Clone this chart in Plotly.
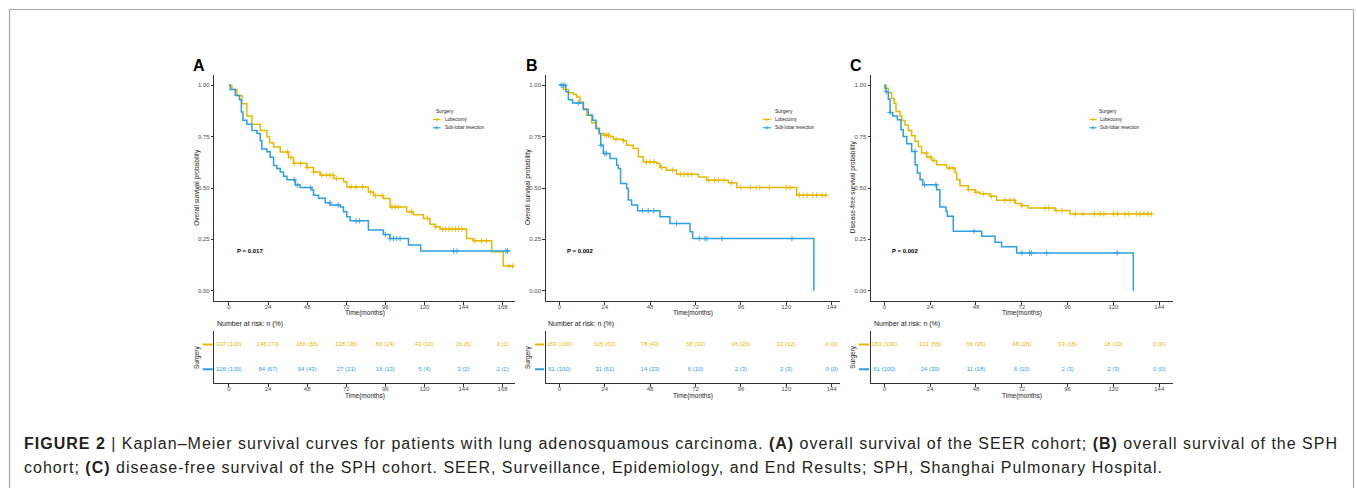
import numpy as np
import plotly.graph_objects as go

W, H = 1357, 488
ORANGE = "#E7B800"
BLUE = "#2E9FDF"
FONT = "Liberation Sans, Arial, Helvetica, sans-serif"

# ---------------- Data ----------------
# Panel A: overall survival, SEER cohort
A_lob_t = [0, 1.8, 4.9, 8.0, 11.0, 14.1, 19.2, 23.3, 25.0, 27.4, 31.5, 36.6, 39.6, 47.8, 51.9, 56.0, 64.2, 70.3, 72.3,
           85.6, 88.7, 94.8, 98.9, 109.1, 113.2, 119.4, 123.4, 126.5, 129.6, 145.9, 150.0, 161.3, 168.4, 175.0]
A_lob_s = [1.0, 0.98, 0.95, 0.91, 0.85, 0.81, 0.78, 0.75, 0.72, 0.70, 0.675, 0.648, 0.62, 0.60, 0.578, 0.562, 0.546, 0.53, 0.505,
           0.48, 0.463, 0.449, 0.408, 0.384, 0.37, 0.352, 0.324, 0.311, 0.30, 0.254, 0.243, 0.19, 0.12, 0.12]
A_lob_cens = [36, 38, 40, 44, 48, 52, 57, 60, 62, 64, 66, 75, 78, 82, 87, 90, 94, 100, 102, 104, 112, 122,
              127, 131, 133, 135, 137, 139, 141, 143, 151, 155, 158, 172, 174]
A_sub_t = [0, 0.8, 3.9, 6.5, 7.6, 8.6, 11.0, 14.1, 17.2, 19.2, 20.2, 23.3, 25.3, 27.4, 29.4, 31.5, 33.5, 35.6, 40.7, 43.7,
           50.9, 51.9, 55.0, 59.1, 62.1, 68.3, 70.3, 72.3, 74.4, 85.6, 94.8, 98.9, 110.2, 117.7, 172.5]
A_sub_s = [1.0, 0.98, 0.95, 0.93, 0.87, 0.83, 0.81, 0.78, 0.765, 0.73, 0.69, 0.676, 0.65, 0.61, 0.595, 0.578, 0.557, 0.54, 0.514, 0.502,
           0.49, 0.465, 0.45, 0.428, 0.417, 0.408, 0.384, 0.36, 0.34, 0.295, 0.274, 0.254, 0.222, 0.193, 0.193]
A_sub_cens = [40, 42, 50, 62, 67, 78, 80, 96, 99, 101, 103, 105, 138, 140, 170, 171]

# Panel B: overall survival, SPH cohort
B_lob_t = [0, 2.1, 4.8, 7.4, 9.2, 10.9, 12.7, 14.5, 17.1, 19.7, 21.1, 23.3, 26.8, 28.6, 33.8, 35.6, 39.1, 41.8, 44.4,
           51.5, 53.2, 56.7, 62.0, 73.5, 77.9, 89.4, 93.8, 125.5, 141.3]
B_lob_s = [1.0, 0.98, 0.963, 0.955, 0.943, 0.919, 0.886, 0.854, 0.817, 0.79, 0.765, 0.757, 0.749, 0.737, 0.73, 0.708, 0.692, 0.652, 0.627,
           0.619, 0.60, 0.587, 0.567, 0.554, 0.538, 0.525, 0.502, 0.465, 0.465]
B_lob_cens = [24, 25, 26, 30, 34, 46, 48, 50, 54, 60, 64, 66, 68, 70, 79, 82, 84, 87, 91, 96, 101, 104, 106, 111,
              120, 122, 127, 129, 131, 134, 136, 139, 141]
B_sub_t = [0, 3.5, 4.8, 7.0, 12.7, 15.3, 17.6, 19.4, 21.1, 21.9, 23.3, 26.8, 30.3, 31.2, 32.4, 35.6, 36.5, 38.2, 41.4,
           53.2, 58.5, 69.1, 70.5, 134.6]
B_sub_s = [1.0, 0.968, 0.93, 0.914, 0.882, 0.854, 0.83, 0.79, 0.765, 0.708, 0.668, 0.643, 0.611, 0.595, 0.522, 0.498, 0.441, 0.417, 0.389,
           0.36, 0.327, 0.287, 0.254, 0.0]
B_sub_cens = [1, 2, 3, 10, 22, 24, 25, 44, 47, 50, 62, 74, 77, 78, 86, 123]

# Panel C: disease-free survival, SPH cohort
C_lob_t = [0, 0.9, 2.1, 3.8, 5.1, 6.1, 8.2, 9.1, 10.8, 12.6, 14.3, 16.1, 17.8, 19.5, 22.2, 24.8, 27.4, 32.6, 37.0, 37.9,
           39.6, 44.0, 47.5, 50.1, 55.3, 58.8, 68.5, 72.0, 75.4, 89.4, 97.2, 140.0]
C_lob_s = [1.0, 0.985, 0.964, 0.937, 0.913, 0.872, 0.851, 0.828, 0.807, 0.78, 0.754, 0.727, 0.702, 0.67, 0.65, 0.634, 0.613, 0.597, 0.576, 0.54,
           0.511, 0.492, 0.479, 0.472, 0.46, 0.44, 0.424, 0.414, 0.403, 0.39, 0.374, 0.374]
C_lob_cens = [22, 24, 26, 34, 36, 44, 48, 52, 56, 63, 66, 68, 72, 84, 86, 90, 93, 100, 104, 110, 113, 115,
              120, 122, 126, 128, 132, 134, 136, 138, 140]
C_sub_t = [0, 0.35, 0.9, 2.1, 3.0, 4.4, 6.8, 8.7, 9.9, 11.7, 14.3, 16.1, 17.3, 18.7, 20.1, 27.4, 29.1, 32.3, 33.0, 36.1,
           51.0, 58.0, 61.4, 69.3, 130.4]
C_sub_s = [1.0, 0.985, 0.969, 0.932, 0.867, 0.851, 0.832, 0.783, 0.751, 0.715, 0.678, 0.613, 0.573, 0.54, 0.516, 0.492, 0.408, 0.387, 0.362, 0.29,
           0.265, 0.236, 0.214, 0.184, 0.0]
C_sub_cens = [1, 3, 16, 21, 27, 47, 72, 76, 77, 85, 122]

# Numbers at risk
A_risk_t = [0, 24, 48, 72, 96, 120, 144, 168]
A_risk_lob = ["337 (100)", "246 (73)", "186 (55)", "128 (38)", "80 (24)", "43 (13)", "16 (5)", "3 (1)"]
A_risk_sub = ["126 (100)", "84 (67)", "54 (43)", "27 (21)", "16 (13)", "5 (4)", "3 (2)", "2 (2)"]
B_risk_t = [0, 24, 48, 72, 96, 120, 144]
B_risk_lob = ["183 (100)", "115 (63)", "78 (43)", "58 (32)", "36 (20)", "22 (12)", "0 (0)"]
B_risk_sub = ["61 (100)", "31 (51)", "14 (23)", "6 (10)", "2 (3)", "2 (3)", "0 (0)"]
C_risk_t = [0, 24, 48, 72, 96, 120, 144]
C_risk_lob = ["183 (100)", "101 (55)", "66 (36)", "48 (26)", "33 (18)", "18 (10)", "0 (0)"]
C_risk_sub = ["61 (100)", "24 (39)", "11 (18)", "6 (10)", "2 (3)", "2 (3)", "0 (0)"]

p_values = ["P = 0.017", "P = 0.002", "P = 0.002"]
y_titles = ["Overall survival probability", "Overall survival probability", "Disease-free survival probability"]
letters = ["A", "B", "C"]
group_names = ["Lobectomy", "Sub-lobar resection"]
y_ticks = [0, 0.25, 0.5, 0.75, 1.0]
y_tick_text = ["0.00", "0.25", "0.50", "0.75", "1.00"]


def surv_at(t, times, survs):
    i = int(np.searchsorted(np.asarray(times), t, side="right")) - 1
    return survs[max(i, 0)]


def fx(p):
    return p / W


def fy(p):
    return 1 - p / H


# ---------------- Layout geometry (pixels) ----------------
panels = [
    dict(x0=214.3, x1=515.0, xr=[-9.0, 175.6], ticks=list(range(0, 169, 24)),
         lob=(A_lob_t, A_lob_s, A_lob_cens), sub=(A_sub_t, A_sub_s, A_sub_cens),
         risk=(A_risk_t, A_risk_lob, A_risk_sub),
         letter_x=198.5, ytitle_x=196.7, surg_x=197, dash=(202.7, 212.7), p_x=235,
         leg_title_x=434, leg_line=(433, 440.5), leg_text_x=443),
    dict(x0=545.7, x1=840.0, xr=[-7.2, 148.4], ticks=list(range(0, 145, 24)),
         lob=(B_lob_t, B_lob_s, B_lob_cens), sub=(B_sub_t, B_sub_s, B_sub_cens),
         risk=(B_risk_t, B_risk_lob, B_risk_sub),
         letter_x=531.7, ytitle_x=528, surg_x=528, dash=(535, 544), p_x=565,
         leg_title_x=772.7, leg_line=(763, 771), leg_text_x=773.3),
    dict(x0=871.0, x1=1173.0, xr=[-7.0, 151.2], ticks=list(range(0, 145, 24)),
         lob=(C_lob_t, C_lob_s, C_lob_cens), sub=(C_sub_t, C_sub_s, C_sub_cens),
         risk=(C_risk_t, C_risk_lob, C_risk_sub),
         letter_x=856.3, ytitle_x=853.3, surg_x=852.7, dash=(859, 869), p_x=890,
         leg_title_x=1096.7, leg_line=(1089.3, 1096.5), leg_text_x=1098.3),
]

MAIN_TOP, MAIN_BOT = 75.0, 301.0
RISK_TOP, RISK_BOT = 330.7, 383.0

axis_common = dict(showline=True, linecolor="#333333", linewidth=1, ticks="outside", ticklen=2.5,
                   tickwidth=0.8, tickcolor="#333333", tickfont=dict(size=6, color="#4D4D4D", family=FONT),
                   showgrid=False, zeroline=False)

fig = go.Figure()
layout = {}
shapes = []
annotations = []


def ann(text, x, y, size, color="#1A1A1A", xanchor="center", yanchor="middle", angle=0, bold=False):
    t = f"<b>{text}</b>" if bold else text
    annotations.append(dict(text=t, x=fx(x), y=fy(y), xref="paper", yref="paper", showarrow=False,
                            xanchor=xanchor, yanchor=yanchor, textangle=angle,
                            font=dict(size=size, color=color, family=FONT)))


for i, p in enumerate(panels):
    main = i + 1
    risk = i + 4
    sfx = "" if main == 1 else str(main)
    dom_x = [fx(p["x0"]), fx(p["x1"])]
    layout[f"xaxis{sfx}"] = dict(axis_common, domain=dom_x, range=p["xr"], tickvals=p["ticks"],
                                 anchor=f"y{sfx}", ticklabelstandoff=-3)
    layout[f"yaxis{sfx}"] = dict(axis_common, domain=[fy(MAIN_BOT), fy(MAIN_TOP)], range=[-0.05, 1.05],
                                 tickvals=y_ticks, ticktext=y_tick_text, anchor=f"x{sfx}")
    layout[f"xaxis{risk}"] = dict(axis_common, domain=dom_x, range=p["xr"], tickvals=p["ticks"],
                                  anchor=f"y{risk}", ticklabelstandoff=-3)
    layout[f"yaxis{risk}"] = dict(axis_common, domain=[fy(RISK_BOT), fy(RISK_TOP)], range=[0.45, 2.55],
                                  showticklabels=False, ticks="", anchor=f"x{risk}")

    xr, yr = f"x{sfx}", f"y{sfx}"
    for (t, s, c), col, name in [(p["lob"], ORANGE, group_names[0]), (p["sub"], BLUE, group_names[1])]:
        fig.add_trace(go.Scatter(x=t, y=s, mode="lines", line=dict(color=col, width=1.5, shape="hv"),
                                 xaxis=xr, yaxis=yr, showlegend=False, name=name))
        fig.add_trace(go.Scatter(x=c, y=[surv_at(v, t, s) for v in c], mode="markers",
                                 marker=dict(symbol="cross-thin", size=4, line=dict(color=col, width=0.9)),
                                 xaxis=xr, yaxis=yr, showlegend=False, name=name, cliponaxis=False))
    rt, rl, rs = p["risk"]
    for row_y, labels, col in [(2, rl, ORANGE), (1, rs, BLUE)]:
        fig.add_trace(go.Scatter(x=rt, y=[row_y] * len(rt), text=labels, mode="text",
                                 textfont=dict(size=6, color=col, family=FONT),
                                 xaxis=f"x{risk}", yaxis=f"y{risk}", showlegend=False, cliponaxis=False))
        shapes.append(dict(type="line", xref="paper", yref=f"y{risk}", x0=fx(p["dash"][0]), x1=fx(p["dash"][1]),
                           y0=row_y, y1=row_y, line=dict(color=col, width=2)))

    cx = (p["x0"] + p["x1"]) / 2
    ann(letters[i], p["letter_x"], 66, 16, color="black", bold=True)
    ann(y_titles[i], p["ytitle_x"], 187, 6.5, angle=-90)
    ann("Time(months)", cx, 312.8, 6.5)
    ann("Number at risk: n (%)", p["x0"] + 0.5, 323.8, 7, xanchor="left")
    ann("Surgery", p["surg_x"], 357, 6.5, angle=-90)
    ann("Time(months)", cx, 395.5, 6.5)
    ann(p_values[i], p["p_x"], 250.7, 6, color="black", xanchor="left", bold=True)

    # legend
    ann("Surgery", p["leg_title_x"], 111, 5, xanchor="left")
    for ly, col, name in [(119.5, ORANGE, group_names[0]), (127.8, BLUE, group_names[1])]:
        lx0, lx1 = p["leg_line"]
        shapes.append(dict(type="line", xref="paper", yref="paper", x0=fx(lx0), x1=fx(lx1),
                           y0=fy(ly), y1=fy(ly), line=dict(color=col, width=1.2)))
        mid = (lx0 + lx1) / 2
        shapes.append(dict(type="line", xref="paper", yref="paper", x0=fx(mid), x1=fx(mid),
                           y0=fy(ly - 1.8), y1=fy(ly + 1.8), line=dict(color=col, width=0.9)))
        ann(name, p["leg_text_x"], ly, 4.5, xanchor="left")

# outer frame
shapes.append(dict(type="rect", xref="paper", yref="paper", x0=fx(9.5), x1=fx(1353.5), y0=-0.02, y1=fy(9.5),
                   line=dict(color="#AAAAAA", width=1.2), fillcolor="rgba(0,0,0,0)", layer="below"))

# caption
SP = '<span style="letter-spacing:1.0px">'
cap1 = (SP + "<b>FIGURE 2</b> | Kaplan–Meier survival curves for patients with lung adenosquamous carcinoma. "
        "<b>(A)</b> overall survival of the SEER cohort; <b>(B)</b> overall survival of the SPH</span>")
cap2 = (SP + "cohort; <b>(C)</b> disease-free survival of the SPH cohort. SEER, Surveillance, Epidemiology, and End Results; "
        "SPH, Shanghai Pulmonary Hospital.</span>")
ann(cap1, 22, 443, 16, color="#231F20", xanchor="left")
ann(cap2, 22, 467, 16, color="#231F20", xanchor="left")

fig.update_layout(width=W, height=H, margin=dict(l=0, r=0, t=0, b=0), paper_bgcolor="white",
                  plot_bgcolor="white", showlegend=False, shapes=shapes, annotations=annotations,
                  font=dict(family=FONT), **layout)
fig.write_html("out.html", config={"displayModeBar": False},
               post_script="document.body.style.margin='0px';document.body.style.overflow='hidden';")
